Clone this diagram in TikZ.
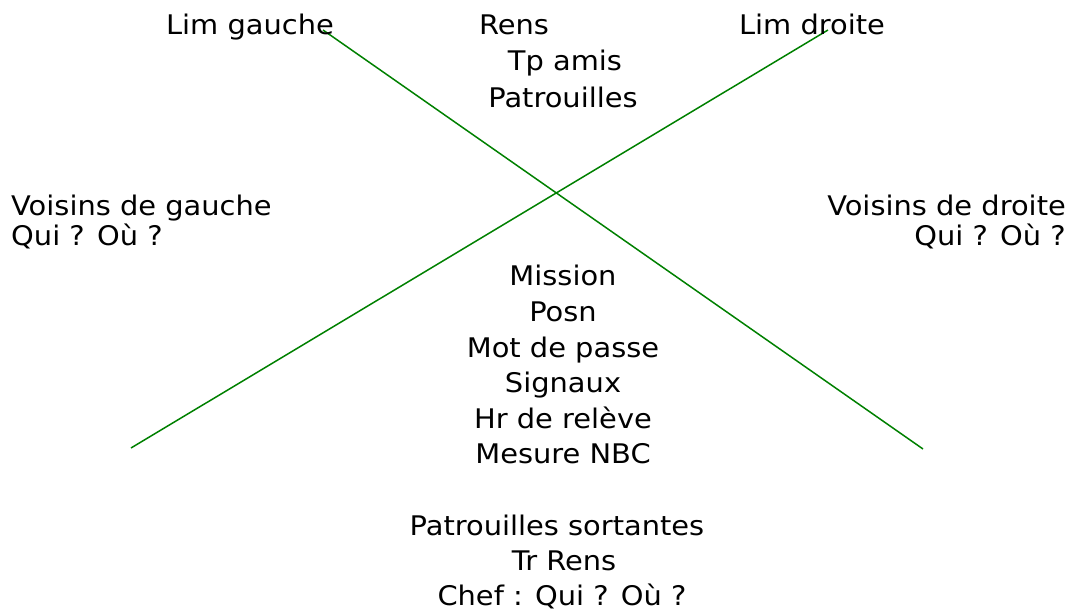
\documentclass[tikz,border=0pt]{standalone}
\usepackage{fontspec}
\setmainfont[FakeStretch=1.07]{DejaVu Sans}
\definecolor{lgreen}{RGB}{0,128,0}
\begin{document}
\begin{tikzpicture}[x=1pt,y=-1pt,
  lbl/.style={inner sep=0pt,anchor=base,font=\fontsize{27}{33}\selectfont},
  lblw/.style={lbl,anchor=base west},
  lble/.style={lbl,anchor=base east},
  axis/.style={draw=lgreen,line width=1.5pt}]
\useasboundingbox (0,0) rectangle (1072,610);
% crossing lines
\coordinate (g1) at (323,30);
\coordinate (g2) at (923,449);
\coordinate (d1) at (131,448);
\coordinate (d2) at (828,30);
\draw[axis] (g1) -- (g2);
\draw[axis] (d1) -- (d2);
% top
\node[lbl] (limg) at (250,35) {Lim gauche};
\node[lbl] (rens) at (514,35) {Rens};
\node[lbl] (tp) at (565,71) {Tp amis};
\node[lbl] (pat) at (563,107) {Patrouilles};
\node[lbl] (limd) at (812,35) {Lim droite};
% sides
\node[lblw] (vg) at (11,215) {Voisins de gauche};
\node[lblw] (vgq) at (11,245) {Qui ? Où ?};
\node[lble] (vd) at (1066,215) {Voisins de droite};
\node[lble] (vdq) at (1066,245) {Qui ? Où ?};
% centre
\node[lbl] (m1) at (563,285) {Mission};
\node[lbl] (m2) at (563,321) {Posn};
\node[lbl] (m3) at (563,357) {Mot de passe};
\node[lbl] (m4) at (563,392) {Signaux};
\node[lbl] (m5) at (563,428) {Hr de relève};
\node[lbl] (m6) at (563,463) {Mesure NBC};
% bottom
\node[lbl] (b1) at (557,535) {Patrouilles sortantes};
\node[lbl] (b2) at (564,570) {Tr Rens};
\node[lbl] (b3) at (562,605) {Chef : Qui ? Où ?};
\end{tikzpicture}
\end{document}
